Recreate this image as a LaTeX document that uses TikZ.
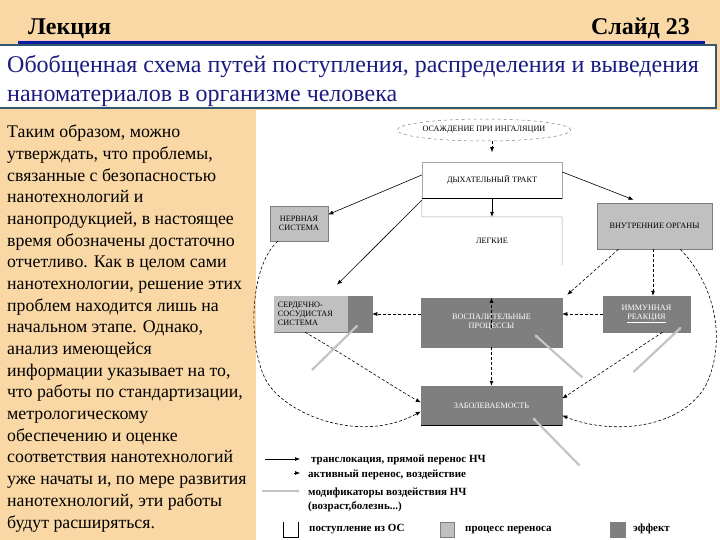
\documentclass[tikz,border=0pt]{standalone}
\usepackage{fontspec}
\setmainfont{Liberation Serif}
\usetikzlibrary{shapes.geometric,arrows.meta,calc}
\definecolor{peach}{HTML}{FAD8A6}
\definecolor{navy}{HTML}{1C1C80}
\definecolor{tborder}{HTML}{35566F}
\definecolor{hblue}{HTML}{0A1E9E}
\definecolor{lightg}{HTML}{C0C0C0}
\definecolor{darkg}{HTML}{7F7F7F}
\definecolor{modg}{HTML}{C4C4C4}
\newcommand\dlfont{\fontsize{8.2}{9.2}\selectfont}
\newcommand\lgfont{\bfseries\fontsize{11}{12}\selectfont}
\begin{document}
\begin{tikzpicture}[x=1pt,y=-1pt,
  box/.style={draw=gray!70, line width=0.5pt, inner sep=0pt, align=center, font=\dlfont},
  lbox/.style={box, fill=lightg, draw=darkg},
  dbox/.style={box, fill=darkg, draw=darkg, text=white},
  sol/.style={line width=0.6pt, -{Latex[length=5pt,width=4pt]}},
  dsh/.style={sol, dash pattern=on 3pt off 2pt},
  modarr/.style={line width=2.2pt, modg, -{Latex[length=3pt,width=4pt]}},
  leg/.style={anchor=base west, inner sep=0pt, font=\lgfont}]
\useasboundingbox (0,0) rectangle (720,540);
\fill[peach] (0,0) rectangle (720,540);
\fill[white] (256,110) rectangle (720,540);
% header
\node[anchor=base west, inner sep=0pt, font=\bfseries\fontsize{24}{28}\selectfont] (hdr) at (28,35) {Лекция};
\node[anchor=base east, inner sep=0pt, font=\bfseries\fontsize{24}{28}\selectfont] (sld) at (690,35) {Слайд 23};
\draw[line width=0.8pt, pink!80!red!60] (18,40.5) -- (705,40.5);
% title box
\draw[fill=white, draw=tborder, line width=1.2pt] (-2,45) rectangle (716,108);
\draw[line width=3pt, hblue] (18,43) -- (705,43);
\node[anchor=north west, inner sep=0pt, align=left, text=navy, font=\fontsize{24}{29}\selectfont] (ttl) at (7,55)
 {Обобщенная схема путей поступления, распределения и выведения\\наноматериалов в организме человека};
% left text
\node[anchor=north west, inner sep=0pt, align=left, font=\fontsize{17.8}{21.67}\selectfont] (body) at (7,125)
 {Таким образом, можно\\
утверждать, что проблемы,\\
связанные с безопасностью\\
нанотехнологий и\\
нанопродукцией, в настоящее\\
время обозначены достаточно\\
отчетливо. Как в целом сами\\
нанотехнологии, решение этих\\
проблем находится лишь на\\
начальном этапе. Однако,\\
анализ имеющейся\\
информации указывает на то,\\
что работы по стандартизации,\\
метрологическому\\
обеспечению и оценке\\
соответствия нанотехнологий\\
уже начаты и, по мере развития\\
нанотехнологий, эти работы\\
будут расширяться.};
% diagram nodes
\node[ellipse, draw=gray, dashed, line width=0.5pt, inner sep=0pt, minimum width=168, minimum height=22, font=\dlfont] (ell) at (484,130) {ОСАЖДЕНИЕ ПРИ ИНГАЛЯЦИИ};
\node[box, minimum width=140, minimum height=36] (dt) at (492,180) {ДЫХАТЕЛЬНЫЙ ТРАКТ};
\draw[line width=1.4pt] (dt.south west) -- (dt.south east);
\node[inner sep=0pt, minimum width=140, minimum height=48, font=\dlfont] (lung) at (492,241) {ЛЕГКИЕ};
\draw[gray!70, line width=0.5pt] (dt.south west) -- (lung.north west) -- (lung.north east) -- (lung.south east);
\node[lbox, minimum width=58, minimum height=35] (ns) at (299,223.5) {НЕРВНАЯ\\СИСТЕМА};
\node[lbox, minimum width=115, minimum height=46] (vo) at (654.5,226) {ВНУТРЕННИЕ ОРГАНЫ};
\node[dbox, minimum width=98, minimum height=36] (ss) at (323,314) {};
\fill[lightg] (ss.north west) rectangle ([xshift=-24pt]ss.south east);
\node[anchor=west, inner sep=0pt, align=left, font=\dlfont] (sst) at ([xshift=4pt]ss.west) {СЕРДЕЧНО-\\СОСУДИСТАЯ\\СИСТЕМА};
\node[dbox, minimum width=141, minimum height=49] (vp) at (491.5,322.5) {ВОСПАЛИТЕЛЬНЫЕ\\ПРОЦЕССЫ};
\node[dbox, minimum width=87, minimum height=36] (ir) at (646.5,314) {ИММУННАЯ\\\underline{РЕАКЦИЯ}};
\node[dbox, minimum width=141, minimum height=39] (zb) at (491.5,405.5) {ЗАБОЛЕВАЕМОСТЬ};
\draw[line width=1.4pt] (zb.south west) -- (zb.south east);
% solid arrows
\coordinate (ellend) at ([yshift=-11pt]ell.south -| dt.north);
\draw[dsh] (ell.south -| dt.north) -- (ellend);
\draw[sol] (dt.south) -- (lung.north);
\draw[sol] ([yshift=5pt]dt.west) -- ([yshift=9pt]ns.east);
\draw[sol] ([yshift=-2pt]dt.south west) -- ([xshift=14pt,yshift=11pt]ss.north);
\draw[sol] ([yshift=8pt]dt.east) -- ([xshift=-21pt,yshift=3pt]vo.north);
% dashed arrows
\draw[dsh] ([yshift=-30pt]vp.north) -- (vp.north);
\draw[dsh] (vp.west |- ss.east) -- (ss.east);
\draw[dsh] (ir.west) -- (vp.east |- ir.west);
\draw[dsh] ([xshift=-36pt]vo.south) -- ([xshift=5pt,yshift=3pt]vp.north east);
\draw[dsh] ([xshift=-1.5pt]vo.south) -- ([xshift=-1.5pt]vo.south |- ir.north);
\draw[dsh] (vp.south) -- (zb.north);
\draw[dsh] ([xshift=16pt]ir.south) -- ([yshift=7pt]zb.east);
\draw[dsh] ([xshift=-18pt]ss.south) .. controls (345,355) and (390,385) .. ([yshift=3pt]zb.west);
\draw[dsh] ([xshift=8pt]ns.south west) .. controls (248,268) and (248,350) .. (267,382)
  .. controls (286,414) and (360,445) .. ([yshift=-6pt]zb.west);
\draw[dsh] ([xshift=-32pt]vo.south east) .. controls (715,285) and (727,340) .. (706,385)
  .. controls (681,430) and (610,435) .. ([yshift=-10pt]zb.east);
% modifier arrows
\draw[modarr] ([xshift=-11pt,yshift=-56pt]ss.center) -- ([xshift=35pt,yshift=-11pt]ss.center);
\draw[modarr] ([xshift=91pt,yshift=-55pt]vp.center) -- ([xshift=43pt,yshift=-12pt]vp.center);
\draw[modarr] ([xshift=-13pt,yshift=-58pt]ir.center) -- ([xshift=35pt,yshift=-13pt]ir.center);
\draw[modarr] ([xshift=88pt,yshift=-60pt]zb.center) -- ([xshift=41pt,yshift=-12pt]zb.center);
% legend
\coordinate (l1a) at (265,459); \coordinate (l1b) at (300,459);
\draw[sol] (l1a) -- (l1b);
\node[leg] (t1) at (311,462) {транслокация, прямой перенос НЧ};
\coordinate (l2a) at (294,473); \coordinate (l2b) at (300,473);
\draw[sol] (l2a) -- (l2b);
\node[leg] (t2) at (308,477) {активный перенос, воздействие};
\coordinate (l3a) at (262,491); \coordinate (l3b) at (300,491);
\draw[modarr, line width=1.6pt] (l3a) -- (l3b);
\node[leg] (t3) at (308,495) {модификаторы воздействия НЧ};
\node[leg] (t4) at (308,509) {(возраст,болезнь...)};
\node[inner sep=0pt, minimum width=15, minimum height=15] (lb1) at (290.5,529.5) {};
\draw[line width=0.6pt] (lb1.north west) -- (lb1.south west) -- (lb1.south east) -- (lb1.north east);
\node[leg] (t5) at (309,531) {поступление из ОС};
\node[fill=lightg, draw=darkg, inner sep=0pt, minimum width=14, minimum height=15] (lb2) at (447,529.5) {};
\node[leg] (t6) at (465,531) {процесс переноса};
\node[fill=darkg, draw=gray, inner sep=0pt, minimum width=15, minimum height=15] (lb3) at (617.5,529.5) {};
\node[leg] (t7) at (633,531) {эффект};
\end{tikzpicture}
\end{document}
